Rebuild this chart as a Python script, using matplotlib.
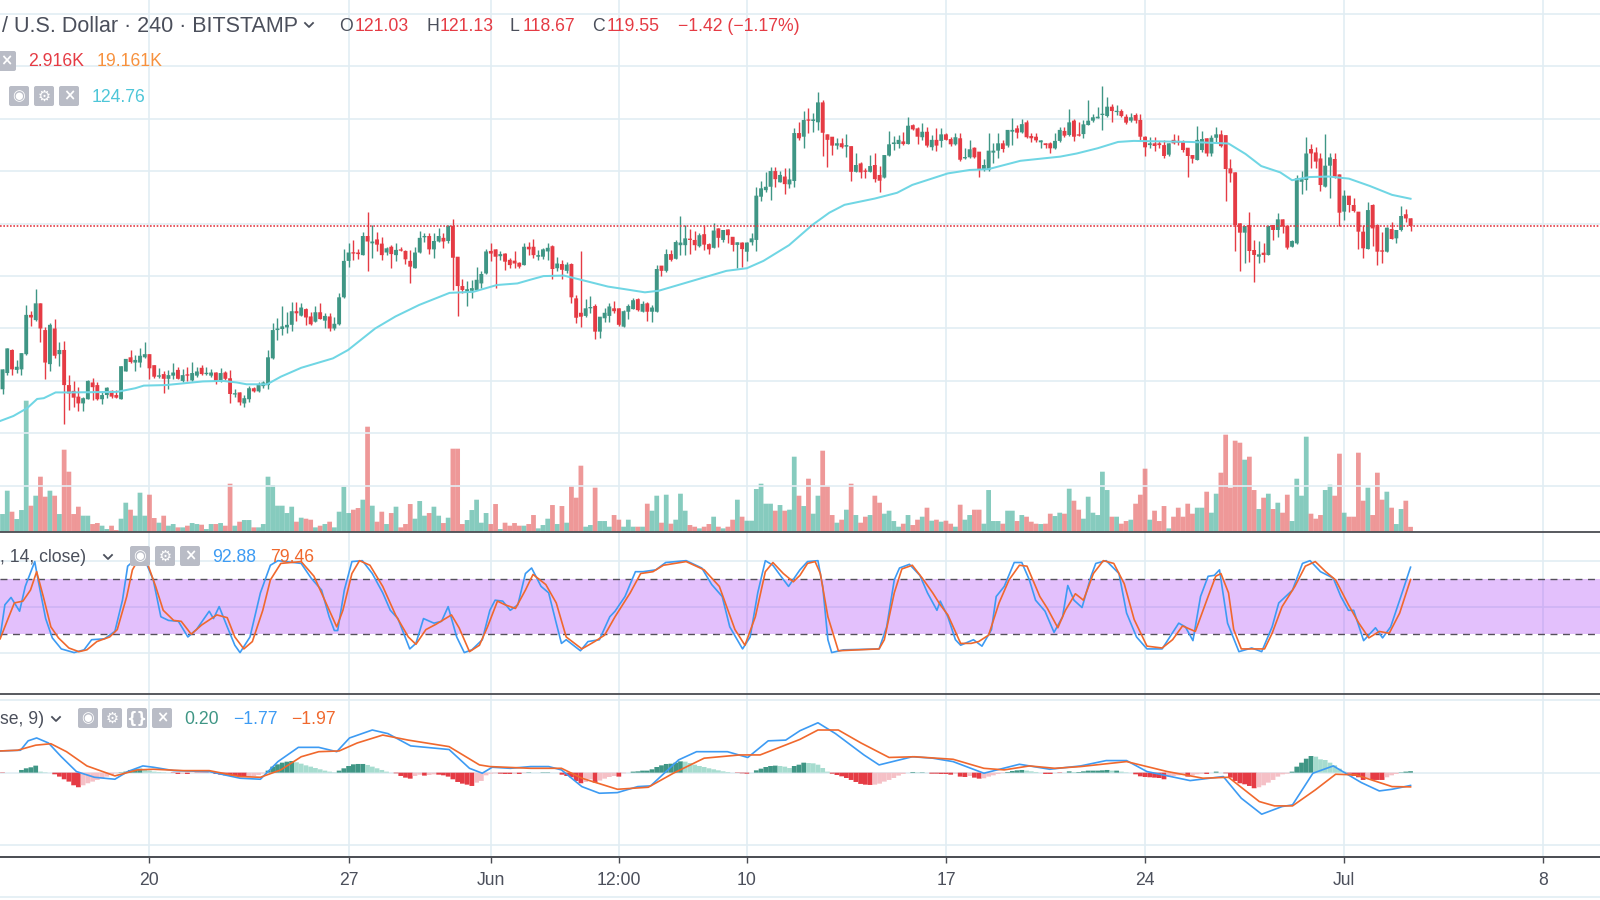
import numpy as np
import matplotlib
matplotlib.use("Agg")
import matplotlib.pyplot as plt
from matplotlib.lines import Line2D
from matplotlib.patches import FancyBboxPatch
from matplotlib.transforms import IdentityTransform

# candle offsets are counted in 4h bars from 20 May
first_bar = -31

opens = [
    88.4, 91.5, 95.9, 92.1, 92.2, 95.1, 102.6, 101.6, 104.8, 99.7,
    93.2, 100, 95.1, 95.9, 89.2, 88.1, 87, 85.7, 86.5, 89.7,
    89.2, 86.5, 87.3, 88.1, 87.3, 86.5, 91.8, 94.5, 93.5, 93.5, 94.5,
    95.1, 93, 90.8, 91.3, 90.4, 91, 92.1, 90, 91.1, 90.1,
    91, 92.5, 91.3, 91, 91.6, 89.9, 91.6, 90.5, 87.4, 87.8,
    85.7, 86.5, 88.6, 88, 89, 89.2, 94.3, 99.7, 99.9, 100.2,
    100.7, 103.3, 102.45, 103.7, 102.3, 101.3, 103.1, 101.5, 102.3, 100,
    100.8, 105.95, 112.9, 114.5, 114.5, 114, 117.65, 116.25, 117, 116.2,
    114.5, 115.6, 114, 115, 114.8, 112.9, 111.5, 114.5, 117.4, 117.65,
    115.1, 116.6, 117.3, 116.7, 119.6, 113.7, 108.1, 107, 107.2, 107.35,
    108.6, 110.5, 114.8, 115.1, 113.8, 114.3, 113.1, 112.95, 112.55, 112.1,
    115.6, 115.6, 113.7, 113.7, 114.7, 115.7, 111.5, 112.3, 111, 112.3,
    105.75, 103, 102.4, 103.85, 104.3, 99.4, 101.95, 102.4, 103.85, 103.85,
    100.35, 103.2, 103.7, 105.6, 103.2, 104.8, 103.2, 103.2, 112, 111,
    114.2, 113.3, 115.9, 115.9, 117.1, 116.9, 115.7, 118, 116.1, 115.4,
    119.1, 116.9, 118.9, 117.5, 115.95, 116.4, 114.65, 116.45, 116.9, 125.15,
    126.4, 127.05, 130.05, 127.9, 129, 127.5, 128.15, 137.3, 136.6, 139.9,
    139.6, 139.35, 143.15, 137.05, 136.6, 134.9, 135.35, 134.7, 134.8, 129.9,
    131.5, 130.05, 129.9, 131.2, 129.3, 128.8, 133, 135.2, 135.2, 135.7,
    135.2, 138.8, 138.2, 136.5, 137.55, 134.6, 136, 135.8, 137.05, 136.15,
    135.15, 136.3, 132.47, 132.67, 134.5, 133.75, 130.25, 130.25, 133.56, 133.94,
    135.34, 134.9, 137.56, 138.2, 137.43, 139.34, 136.74, 136.6, 135.53, 135.34,
    135.34, 134.38, 135.8, 137.7, 136.93, 139.66, 137.05, 137.1, 138.83, 139.66,
    140.1, 140.74, 140.55, 142.33, 141.3, 141.5, 140.42, 139.66, 140.74, 139.8,
    136.6, 135, 135.34, 135.34, 135, 133.17, 136, 135.8, 135.66, 134.5,
    133.1, 132.16, 134.06, 136.3, 133.4, 136.4, 137.05, 136.9, 130.56, 129.8,
    120.07, 118.29, 119.75, 114.98, 113.71, 114.47, 114.03, 119.75, 118.8, 120.83,
    119.62, 115.6, 116.25, 128, 128.34, 134.25, 133.6, 132.45, 127.07, 131.07,
    132.35, 129.4, 122.3, 125.35, 123.57, 122.3, 118.48, 115.17, 123.57, 119.75,
    114.79, 114.66, 118.99, 117.2, 118.8, 121.8, 121.03,
]
highs = [
    92.2, 96.2, 96.0, 94, 95.3, 104.5, 103.4, 107.5, 104.8, 100.3,
    101, 101.8, 97.4, 97.6, 91.1, 89.9, 88.9, 87, 90.2, 90.5,
    89.7, 88, 88.9, 88.3, 88.3, 92.9, 94.2, 95.9, 95, 96.2, 97.5,
    95.2, 93, 92.5, 91.8, 92.1, 93.4, 92.6, 92.2, 92.6, 93.7,
    92.6, 93, 92.6, 92.2, 91.7, 92.4, 91.8, 92.1, 88.4, 87.8,
    87.3, 89, 88.9, 89.8, 89.9, 95.9, 101, 102, 104.2, 103.2,
    105, 105, 104.8, 104, 103.2, 104.2, 104.8, 102.9, 102.9, 102.1,
    106.7, 115.1, 116.25, 116.8, 115.1, 118.4, 122.3, 119.75, 118.4, 117.4,
    115.6, 115.9, 116.4, 115.6, 115, 115, 115.6, 118.7, 118.3, 118.2,
    118.3, 119.2, 118.2, 119.75, 120.9, 113.7, 109.45, 109.05, 109.25, 111.7,
    111, 115.1, 116.4, 115.2, 114.7, 114.5, 113.4, 114.8, 112.75, 116.25,
    116.6, 117, 115, 115.3, 116.4, 115.9, 113.7, 113.1, 112.75, 112.55,
    106.4, 114.8, 105.6, 106.2, 104.7, 102.25, 103.85, 104.9, 105.3, 103.9,
    103.5, 104.6, 105.9, 105.75, 105.3, 105.1, 104.5, 112.2, 112, 115.1,
    115, 116.8, 121.5, 119.75, 118.9, 118.7, 118.2, 119.75, 116.25, 120.1,
    119.1, 118.8, 118.9, 117.5, 116.45, 116.5, 116.45, 118.15, 127.05, 128.15,
    129.8, 130.9, 130.9, 130.05, 130.55, 130.55, 138.2, 139.35, 141.5, 142,
    141.05, 145.06, 143.7, 137.05, 136.6, 136.3, 136.3, 137.05, 134.85, 133.4,
    131.7, 130.55, 133.1, 133.4, 131, 133.1, 137.7, 136.8, 136.9, 137.55,
    140.35, 139, 138.5, 139.3, 138.4, 136.9, 138.2, 138.2, 137.35, 136.5,
    137.35, 137.35, 134.38, 136, 134.6, 133.75, 132.35, 137.37, 135.34, 137.24,
    135.96, 137.9, 140.1, 138.83, 139.9, 139.8, 137.37, 137.24, 136, 135.46,
    135.66, 137.24, 138.5, 138.5, 141.8, 139.9, 139.34, 139.8, 143.7, 140.87,
    142.33, 146.3, 144.24, 142.84, 142.65, 141.8, 140.87, 141.06, 141.06, 140.87,
    136.74, 136.6, 136.5, 135.86, 136, 135.34, 137.05, 136.93, 136, 134.5,
    133.1, 138.7, 137.7, 136.3, 137, 138.5, 137.9, 136.9, 132.35, 129.8,
    120.2, 119.56, 122.3, 116.89, 116.7, 116.38, 119.75, 119.75, 121.98, 120.83,
    119.62, 116.9, 129.3, 130.05, 136.5, 135.15, 134.7, 133.4, 137.05, 133.4,
    133.4, 129.4, 126.43, 125.35, 124.84, 122.3, 119.75, 124.08, 123.7, 119.9,
    118.48, 119.43, 120.26, 118.8, 123.38, 122.8, 121.13,
]
lows = [
    87.5, 91.1, 91.1, 91.5, 91.1, 95, 100.4, 101.5, 97.4, 90.4,
    91.8, 94.3, 92.9, 81.8, 84.5, 85.1, 84.3, 84.3, 86.5, 86.4,
    86.4, 85.6, 86.7, 86.7, 86.7, 86.5, 91.8, 93.4, 91.8, 92.6, 94.3,
    90.4, 90.6, 90.6, 87.6, 88.5, 90.4, 90.4, 89.7, 89.9, 90,
    90.8, 91.1, 91.1, 90.7, 89.5, 89.7, 90.2, 85.7, 86.9, 85.4,
    85, 86, 87.8, 87.9, 88.6, 88.4, 94.2, 97.8, 98.8, 99.1,
    99.5, 101.4, 102.3, 100.7, 100.7, 101.2, 101.8, 100, 99.6, 99.7,
    100.7, 105.9, 111.8, 113, 113.2, 114, 111, 113.4, 114.7, 113,
    114, 111.5, 112.9, 114.7, 112.4, 108.7, 111.5, 114.5, 116.6, 114.3,
    113.5, 116.6, 115.3, 116.25, 107.35, 102.4, 106.85, 104.3, 105.9, 107.35,
    107.7, 110.4, 112.9, 107.7, 113.1, 111.2, 111.5, 111.5, 111.5, 112.1,
    114, 113.5, 113.1, 113.2, 113.1, 109.4, 111, 109.4, 110.65, 104.8,
    101.1, 100.35, 102.25, 102.9, 97.9, 98.1, 101.3, 101.3, 102.9, 100.5,
    100.35, 101.8, 103.65, 103.4, 103.2, 101.5, 101.2, 103.2, 110.1, 110.85,
    112.95, 113.2, 114, 114, 114.3, 115, 115.6, 115, 114.3, 115.3,
    115.6, 116.6, 116.25, 114.85, 111.5, 111.8, 112.9, 115.95, 114.85, 124.3,
    126.1, 124.5, 127.05, 127.9, 125.65, 126.75, 127.05, 136, 134.4, 137.4,
    137.55, 137.9, 132.9, 130.75, 133.1, 134.25, 134.4, 132.65, 128.2, 129.8,
    128.65, 128.8, 129.8, 128, 126, 128.65, 133, 134.05, 134.4, 135,
    135.15, 137.9, 135.15, 136, 134.7, 134.05, 133.9, 134.7, 136, 134.9,
    135, 132, 132.35, 132.47, 132.5, 128.98, 130.12, 130.12, 131.52, 132.47,
    133.75, 134.57, 135, 136.3, 137.37, 136.3, 135.66, 135.53, 134.38, 134.38,
    133.56, 134.25, 135.66, 136.6, 136.8, 135.8, 136.74, 136.3, 138.83, 139.47,
    140.1, 137.9, 140.42, 139.34, 140.74, 140.42, 139.02, 139.47, 139.28, 135.8,
    132.92, 134.38, 133.87, 134.38, 132.47, 132.92, 135.2, 135, 133.75, 128.98,
    131.52, 132.16, 133.6, 132.9, 132.9, 135.65, 134.7, 124.33, 127.9, 114.79,
    110.97, 112.44, 112.63, 108.81, 112.44, 112.63, 114.03, 116.89, 117.4, 118.16,
    115.17, 115.5, 116.06, 125.67, 126.43, 130.56, 130.56, 126.24, 127.07, 124.84,
    128.78, 119.62, 120.7, 122.17, 122.17, 115.1, 113.52, 115.1, 115.8, 112.12,
    112.44, 114.53, 117.08, 116.25, 118.67, 120.4, 118.67,
]
closes = [
    92.2, 96.2, 92.2, 92.7, 95.3, 102.6, 102.1, 104.8, 100, 93.5,
    100.7, 94.8, 95.9, 89.2, 87.6, 86.8, 85.7, 86.7, 90, 88.8,
    86.5, 87.3, 88.7, 87, 86.8, 92.8, 94.2, 93.6, 94, 94.8, 95.1,
    92.4, 90.8, 91, 90.4, 91.1, 91.6, 90.4, 91.1, 91, 91.5,
    91.8, 91.3, 91.5, 91.6, 89.9, 91.5, 90.4, 87.5, 87.5, 85.9,
    86.7, 88.6, 88, 89.3, 89.7, 94.5, 99.7, 100, 100.4, 100.7,
    103.3, 102.9, 104, 102.1, 100.8, 103.1, 101.8, 102.4, 100, 100.9,
    105.95, 112.9, 114.5, 114.3, 114.2, 117.65, 116.6, 116.6, 116, 114,
    115.3, 114.2, 115, 114.85, 113.2, 111.8, 114.5, 117.3, 117.65, 115.1,
    116.7, 117.65, 116.6, 119.6, 113.5, 108.1, 107.35, 107.5, 107.7, 109.3,
    110.4, 114.7, 114.3, 113.7, 114.2, 112.75, 112.1, 112.4, 111.8, 115.6,
    115.1, 114, 114, 115.1, 115.4, 111.35, 112.4, 111.2, 112.2, 105.95,
    102.05, 102.25, 103.85, 104, 99.4, 102.25, 103, 104.2, 103.3, 100.7,
    103.3, 104.3, 105.4, 103.5, 104.7, 103.2, 104, 111.35, 111, 114.2,
    113.1, 116.5, 116.4, 117.2, 116.9, 115.9, 117.8, 116, 115.1, 118.7,
    117.3, 118.8, 117.8, 115.95, 116.45, 115.15, 116.4, 117.2, 125.35, 126.75,
    127.05, 130.05, 128.5, 129.3, 127.55, 128.45, 137.3, 136.3, 139.8, 139.65,
    139.9, 143.15, 137.35, 136, 134.9, 135.35, 134.6, 135, 129.9, 131.2,
    129.8, 129.9, 131, 128.5, 128.2, 133.1, 135.15, 135.5, 136, 135.2,
    138.7, 138, 136.6, 137.55, 134.9, 136, 134.9, 137.05, 136, 135.15,
    136.5, 132.2, 132.6, 134.2, 132.67, 130.25, 131.2, 133.94, 133.94, 135.34,
    134.25, 137.9, 137.9, 137.37, 139, 136.5, 136.3, 135.9, 135.9, 135,
    134.38, 135.8, 137.9, 136.8, 139.34, 136.6, 136.8, 138.96, 139.66, 140.3,
    140.42, 140.9, 142.33, 141.5, 141.5, 140.55, 139.28, 140.3, 139.66, 136.6,
    134.57, 135.34, 134.83, 135, 132.92, 135.34, 135.34, 135.46, 134.06, 132.92,
    132.4, 136, 136.16, 133.4, 136.4, 137.05, 134.8, 130.43, 129.6, 119.75,
    118.29, 119.56, 114.79, 114.03, 114.15, 114.03, 119.56, 118.8, 120.83, 119.43,
    115.43, 116.7, 128.65, 128.65, 133.4, 133.4, 131.85, 127.38, 131.07, 132.65,
    128.97, 122.1, 125.35, 123.57, 122.42, 118.48, 115.3, 122.6, 119.1, 114.66,
    114.66, 119.24, 117.08, 118.8, 121.47, 121, 119.55,
]
volumes = [
    10.6, 24.6, 12, 7.6, 13, 78.6, 15.6, 21.6, 33, 21,
    24.6, 21.6, 10.6, 49.2, 36, 10.6, 15, 9.6, 9.6, 4.6,
    5.2, 3.6, 1.6, 3.6, 1, 7.8, 17.4, 13.2, 9.6, 23.4, 9.6,
    22.2, 8.2, 5.4, 9.6, 3.6, 4.6, 2.6, 2.6, 3.6, 5.2,
    4.6, 4.2, 1.6, 4.6, 4.6, 5.2, 3.6, 28.8, 3.6, 6,
    7, 7, 2.6, 2.6, 4.6, 33, 28, 15.6, 15.6, 11.2,
    15, 6, 8.4, 7.8, 7.2, 2.6, 3.6, 4.6, 6, 2.6,
    12, 27, 11.2, 13.2, 14.2, 19.2, 63, 15.6, 6, 12,
    4.6, 11.2, 15, 2.6, 4.6, 16.6, 7.8, 18.4, 9.6, 11.2,
    15, 9.6, 5.2, 8.4, 49.8, 49.8, 4.6, 7, 13, 19.2,
    5.4, 11.2, 4.6, 16.6, 1.6, 5.4, 3.6, 5.2, 3.6, 3.6,
    4.6, 10, 2, 4, 7.8, 16, 4.6, 15.4, 5.4, 27.4,
    20.4, 39.6, 3, 4, 26.4, 6.4, 6.4, 3, 10, 7.2,
    3, 7.2, 3, 3, 3, 16.8, 12.6, 21.6, 5.4, 22.2,
    4.8, 7.2, 22.8, 12.6, 4, 3, 2, 3, 4.6, 9,
    3, 2, 3, 7.2, 19.2, 9, 6.6, 6.6, 25.6, 28.8,
    16.8, 16.8, 12.6, 16, 12.6, 13.2, 45, 21.6, 15.4, 31.8,
    10.8, 21.6, 48.6, 27.4, 10, 5.4, 7.2, 13.2, 28.8, 10,
    5.4, 9, 10, 21.6, 17.4, 10.8, 12.6, 6.4, 3, 4.8,
    10, 4, 7.2, 9, 14.4, 6.6, 7.2, 6, 6.6, 4.8,
    3, 16.2, 7.2, 10, 13.2, 13.2, 4.8, 25, 6.4, 6.4,
    4.8, 12.6, 12.6, 6.4, 10, 9, 6, 4.8, 4.6, 4.8,
    10.8, 9.4, 11.4, 10.8, 25.8, 18.6, 13.2, 7.8, 21, 11.4,
    10, 36, 25, 9, 9, 4.8, 6.4, 7.2, 16.8, 22.2,
    37.8, 7.2, 12.6, 6.4, 15.4, 2, 9, 14.4, 9, 16.8,
    10.8, 14.4, 14.4, 24, 11.4, 22.8, 35.4, 58.2, 26.4, 54.6,
    53.4, 43.2, 45, 25, 13.6, 20.4, 22.8, 13.6, 17.4, 11.4,
    22.2, 6.4, 31.8, 21.6, 57, 10.8, 7.8, 10, 25, 28.2,
    21.6, 46.8, 11.4, 9, 9, 47.4, 18.6, 26.4, 10, 35.4,
    19.2, 24, 14.4, 4.6, 13.6, 18.6, 2.916,
]
macd_hist = [
    -.05, 0, 0, 0, .37, .6, .74, .97, .14, .05,
    0, -.23, -.55, -.92, -1.24, -1.75, -2.02, -1.75, -1.47, -1.24,
    -1.01, -.78, -.55, -.32, -.09, .05, .14, .37, .46, .55, .41,
    .28, .14, .09, .05, 0, -.05, -.18, -.14, -.18, -.05,
    -.05, -.05, -.05, 0, -.18, -.28, -.37, -.46, -.51, -.55,
    -.6, -.55, -.46, -.32, -.09, .28, .83, 1.15, 1.38, 1.52,
    1.61, 1.43, 1.24, 1.01, .83, .64, .46, .28, .14, .05,
    .28, .6, .92, 1.15, 1.2, 1.2, 1.06, .83, .6, .37,
    .14, 0, -.09, -.46, -.69, -.83, -.46, -.28, -.41, -.32,
    -.23, -.28, -.37, -.55, -.92, -1.29, -1.52, -1.66, -1.84, -1.38,
    -1.15, -.37, -.14, -.09, -.14, -.18, -.18, -.14, -.18, -.05,
    .05, 0, 0, .05, .05, 0, 0, -.28, -.46, -.64,
    -1.15, -1.47, -1.29, -.92, -1.38, -1.1, -.83, -.6, -.46, -.55,
    -.09, 0, .14, .18, .28, .28, .46, .78, 1.01, 1.2,
    1.24, 1.38, 1.56, 1.52, 1.33, 1.1, .92, .78, .6, .46,
    .32, .18, .09, 0, -.05, -.09, -.14, 0, .32, .55,
    .78, .92, .97, .92, .83, .64, .92, 1.1, 1.38, 1.33,
    1.29, 1.1, .64, .14, -.14, -.32, -.51, -.74, -1.01, -1.29,
    -1.56, -1.66, -1.7, -1.66, -1.52, -1.24, -1.01, -.74, -.41, -.18,
    0, .09, .05, .05, 0, -.14, -.14, -.18, -.18, -.28,
    -.14, -.55, -.6, -.46, -.69, -.83, -.78, -.55, -.37, -.18,
    -.05, .09, .23, .32, .37, .28, .18, .09, 0, -.18,
    -.18, 0, -.05, 0, .18, .09, .09, .18, .28, .28,
    .28, .32, .37, .28, .28, .14, .05, 0, -.23, -.51,
    -.6, -.64, -.69, -.74, -.92, -.55, -.46, -.37, -.18, -.55,
    -.37, -.23, -.14, -.18, 0, .14, 0, -.09, -.69, -1.15,
    -1.47, -1.61, -1.84, -2.16, -2.02, -1.75, -1.38, -1.01, -.55, -.23,
    -.14, .14, .83, 1.38, 1.93, 2.3, 2.21, 1.84, 1.75, 1.38,
    1.01, .55, .14, -.14, -.46, -.64, -1.01, -.78, -1.01, -1.01,
    -1.01, -.64, -.37, -.18, .05, .14, .2,
]

# moving average, read at its bends
ma_bars = [-31.5, -28.7, -25.8, -23.7, -22.3, -19.8, -16.5, -6.9, -3, -1.2, 3.4, 11.3, 15.5, 18.4, 20.5, 24.8, 27.7, 32, 38.7, 41.9,
           47.6, 51.9, 56.9, 63.3, 68.3, 73.3, 77.6, 80.3, 83.1, 87.4, 91, 96.7, 100.3, 104.5, 107.4, 113.8, 121.7, 126, 129.5, 134.9,
           139.8, 143.4, 146.6, 153, 157.7, 160.9, 168.4, 173, 176.9, 183.7, 192.1, 195.6, 200, 204.3, 207.6, 219.6, 227.6, 231.2, 234.5, 238.5,
           241, 244.7, 248.7, 253, 257.4, 262.1, 266]
ma_values = [82.35, 83.3, 84.8, 86.55, 86.7, 87.8, 87.8, 87.9, 88.6, 89.1, 89.2, 89.9, 90, 89.7, 89.35, 89.35, 90.8, 92.5, 94.3, 95.9,
             100, 102.3, 104.5, 106.8, 107, 108.3, 108.6, 109.3, 110, 110.1, 109.3, 108, 107.5, 106.9, 107.2, 108.9, 111, 111.5, 112.9, 115.9,
             119.75, 122.1, 123.6, 124.8, 125.9, 127.4, 129.6, 130.25, 130.4, 132, 132.8, 133.4, 134.4, 135.6, 135.8, 135.6, 135.3, 133.3, 131, 129.8,
             128.3, 128.9, 129, 128.6, 127.2, 125.5, 124.76]

stoch_k_bars = [-31.5, -30.5, -29.2, -27.4, -26.2, -24.2, -23.5, -21.9, -20.5, -18.6, -15.9, -13.8, -12.2, -9.5, -7.3, -5.7, -4.6, -3.3, -0.9, 0.8,
                2.4, 4, 6.1, 8.1, 9.9, 12.6, 13.5, 14.7, 16.4, 18, 19.1, 21.2, 23.4, 25.5, 27.1, 32, 34.1, 36.3, 37.9, 39,
                39.7, 41.1, 42.7, 44.9, 47, 49.2, 50.8, 52.4, 54.9, 56.2, 57.8, 60, 61.6, 63, 64.8, 66.4, 68, 70.2, 71.8, 72.9,
                74.5, 76.1, 77.7, 79.3, 80.6, 82.6, 84.2, 85.8, 86.9, 87.9, 90.9, 92.5, 94.9, 97.1, 98.2, 100.3, 102.5, 104.1, 106.8, 108.9,
                113.2, 116.5, 118.6, 120.8, 122.4, 125.1, 126.7, 128.3, 129.9, 131.5, 133.2, 134.8, 137.2, 138.8, 141, 142, 143.1, 143.9, 146.4, 153.9,
                155.5, 157.1, 158.2, 160.3, 162.5, 164.1, 166.1, 166.8, 168.4, 170, 171.1, 173.8, 175.6, 177.6, 178.6, 180.3, 182.4, 184, 185.6, 186.9,
                188.9, 190.8, 192.6, 193.7, 195, 196.7, 198.6, 199.6, 201.8, 204.5, 206.1, 208.2, 210.4, 213.6, 217.1, 218.5, 220.1, 221.7, 223.3, 224.6,
                225.7, 227.4, 229.8, 232.5, 234.6, 236.8, 238.2, 241.1, 243.2, 244.8, 247, 249.7, 251.3, 252.9, 254, 256.1, 258.6, 260.1, 261.8, 263.7, 266]
stoch_k_values = [17, 52, 60, 45, 72, 99, 79, 37, 16, 4, 0, 3, 14, 15, 23, 57, 94, 100, 100, 79,
                  39, 35, 34, 17, 25, 45, 37, 50, 28, 8, 0, 17, 65, 95, 100, 97, 81, 68, 39, 24,
                  24, 68, 99, 100, 86, 65, 46, 37, 4, 10, 37, 32, 34, 50, 17, 0, 3, 14, 46, 57,
                  56, 46, 52, 86, 92, 72, 65, 32, 10, 14, 2, 12, 14, 39, 45, 61, 88, 88, 90, 98,
                  100, 92, 74, 61, 28, 4, 17, 65, 100, 95, 83, 72, 90, 99, 100, 72, 14, 0, 3, 4,
                  28, 79, 92, 96, 84, 65, 46, 56, 39, 14, 8, 14, 7, 25, 61, 72, 98, 98, 79, 57,
                  45, 22, 39, 73, 57, 49, 83, 97, 100, 86, 43, 17, 4, 4, 32, 28, 13, 61, 83, 84,
                  90, 32, 1, 5, 1, 28, 54, 68, 97, 100, 88, 81, 61, 46, 46, 13, 27, 16, 28, 57, 92.88]
stoch_d_bars = [-31.5, -29.9, -28.5, -26.7, -25.1, -23.8, -22.4, -20.8, -19.2, -17, -14.9, -13.2, -11.1, -8.4, -6.8, -4.8, -3.6, -2.5, -0.3, 1.3,
                2.9, 5.1, 6.7, 8.8, 11, 14.2, 16.4, 18, 19.9, 21.7, 23.9, 25.5, 27.7, 32, 34.7, 37.4, 39.5, 40.8, 42.7, 44.3,
                46.5, 49.2, 51.9, 54.6, 56.2, 58.3, 60.5, 62.1, 63.7, 65.3, 67.5, 69.6, 71.3, 73.4, 75, 77.2, 79.3, 80.9, 83.6, 85.8,
                87.9, 91.2, 93.9, 96, 98.2, 101.4, 103.6, 106.2, 108.4, 113.2, 117, 120.2, 123.5, 125.6, 127.8, 129.9, 131.5, 133.7, 135.8, 137.2,
                138.8, 140.4, 141.5, 143.1, 145.3, 153.9, 155, 157.1, 158.7, 160.9, 163, 165.2, 166.8, 168.4, 171.1, 173.3, 174.9, 177, 179.2, 181.3,
                183.5, 185.1, 187.8, 189.4, 191.6, 193.2, 195.3, 197, 199.1, 201.2, 203.4, 205.6, 207.7, 210.4, 213.6, 215.8, 217.9, 220.6, 223.3, 224.9,
                226, 227.6, 228.7, 230.3, 235.2, 236.8, 238.9, 241.6, 243.8, 245.9, 248.1, 250.2, 252.9, 255.1, 257.2, 259.4, 261.5, 263.7, 266]
stoch_d_values = [15, 36, 54, 56, 68, 88, 61, 28, 16, 5, 1, 3, 12, 17, 25, 61, 90, 100, 95, 72,
                  46, 35, 34, 20, 30, 41, 38, 17, 4, 12, 46, 79, 97, 99, 83, 52, 28, 46, 86, 100,
                  95, 72, 41, 17, 9, 25, 31, 36, 41, 27, 1, 8, 28, 56, 52, 48, 68, 85, 74, 54,
                  17, 4, 12, 19, 39, 65, 86, 88, 95, 99, 90, 72, 25, 8, 39, 88, 98, 86, 77, 84,
                  97, 99, 86, 39, 2, 4, 14, 65, 91, 95, 81, 65, 52, 41, 10, 10, 12, 19, 54, 79,
                  95, 94, 61, 48, 27, 46, 64, 57, 86, 100, 97, 75, 36, 7, 5, 14, 29, 23, 61, 83,
                  86, 65, 25, 4, 4, 21, 50, 72, 94, 99, 88, 79, 52, 32, 16, 23, 21, 43, 79.46]

macd_bars = [-31.5, -27.2, -25.6, -23.8, -21.3, -18.6, -15.4, -11.6, -7.3, -4.6, -1.4, 0.8, 5.1, 12.6, 19.1, 23.4, 27.1, 31.4, 35.7, 39.5,
             42.2, 47, 50.3, 55.1, 63.2, 67.5, 70.2, 72.3, 76.1, 80.4, 84.2, 86.9, 91.2, 94.9, 98.7, 103, 105.7, 111.6, 115.4, 121.9,
             126.2, 130.5, 134.2, 137.2, 141, 144.7, 150.7, 153.9, 160.9, 165.2, 169.5, 176, 183.5, 189.9, 196.4, 201.8, 206.1, 210.4, 219.5, 226.5,
             230.3, 234.6, 238.9, 241.1, 245.4, 249.7, 255.6, 259.4, 262.1, 266]
macd_values = [3, 3.1, 4.4, 4.8, 4.1, 2.2, .15, -.64, -.91, .15, .93, .75, .28, .15, -.77, -.91, 1.53, 3.5, 3.5, 2.9,
               4.8, 5.9, 5.4, 3.7, 3.2, .6, -.08, .75, .6, .84, .84, .38, -1.93, -2.85, -2.76, -1.93, -1.83, 1.76, 2.9, 2.9,
               2.1, 4.4, 4.5, 5.8, 6.9, 5.4, 2.45, 1.07, 2.2, 2, 1.53, -.08, 1.16, .47, .93, 1.67, 1.67, .15, -1.1, -.54,
               -3.54, -5.75, -4.69, -4.46, -.08, .93, -1.37, -2.53, -2.3, -1.77]
signal_bars = [-31.5, -27.8, -24, -20.8, -17.5, -13.2, -7.3, -2.5, 0.8, 7.2, 12.6, 19.1, 23.4, 27.7, 32, 35.7, 40, 43.8, 49.2, 54.6,
               63.2, 69.6, 71.8, 80.4, 86.9, 91.2, 98.7, 105.2, 110.5, 117, 124.5, 128.8, 137.2, 141, 145.3, 150.1, 156, 161.4, 169.5, 176,
               180.3, 185.6, 191, 196.4, 206.1, 214.7, 222.2, 227.6, 234.1, 237.3, 241.1, 245.9, 250.2, 254.5, 262.1, 266]
signal_values = [3, 3.1, 3.8, 4, 2.9, .93, -.45, .38, .47, .28, .28, -.54, -.64, .38, 2.2, 2.9, 3, 4.1, 5.2, 4.5,
                 3.6, 1.07, .84, .6, .6, -.77, -2.3, -2.02, -.08, 2, 2.45, 2.45, 4.6, 5.9, 5.9, 4.1, 2.1, 2.2, 1.85, .6,
                 .38, .93, .6, .84, 1.53, .15, -.77, -.64, -4, -4.6, -4.6, -2.39, -.22, -.31, -1.93, -1.97]

price_ticks = [70, 80, 90, 100, 110, 120, 130, 140, 150, 160]
stoch_grid = [0, 50, 100]
macd_grid = [-10, 0, 10]
time_ticks = [0, 42, 72, 99, 126, 168, 210, 252, 294]
time_labels = ["20", "27", "Jun", "12:00", "10", "17", "24", "Jul", "8"]
last_close = 119.55

GREEN = "#3f9685"
RED = "#e53b44"
VOL_GREEN = "#45af9b"
VOL_RED = "#e56161"
BLUE = "#3d9bf3"
ORANGE = "#f0682d"
CYAN = "#70d6e4"
GRID = "#e2edf3"
TEXT = "#4b4f5b"
ICON = "#b9bcc6"
DIVIDER = "#4a4c52"

W, H = 1600, 900
FONT = ["Liberation Sans", "DejaVu Sans"]


def pane(y_top, y_bottom):
    ax = fig.add_axes([0, 1 - y_bottom / H, 1, (y_bottom - y_top) / H])
    ax.set_xlim(-31.53, 305.96)
    ax.set_yticks([])
    ax.set_xticks([])
    for s in ("top", "left", "right", "bottom"):
        ax.spines[s].set_visible(False)
    ax.set_facecolor("none")
    return ax


def label(x, y, text, color=TEXT, size=12.7, ha="left"):
    fig.text(x / W, 1 - (y + 1.5) / H, text, color=color, fontsize=size, ha=ha, va="center", family=FONT)


def chevron(x, y):
    fig.add_artist(Line2D([(x - 4) / W, x / W, (x + 4) / W], [1 - (y - 2) / H, 1 - (y + 2) / H, 1 - (y - 2) / H],
                          color=TEXT, lw=1.3))


def icon(x0, x1, y0, y1, glyph):
    box = FancyBboxPatch((x0 + 1, H - y1 + 1), x1 - x0 - 2, y1 - y0 - 2, boxstyle="round,pad=1,rounding_size=2",
                         fc=ICON, ec="none", transform=IdentityTransform())
    fig.add_artist(box)
    fig.text((x0 + x1) / 2 / W, 1 - ((y0 + y1) / 2) / H, glyph, color="white", fontsize=10.5, ha="center",
             va="center", family="DejaVu Sans", fontweight="bold")


def unsnap(container):
    for b in container:
        b.set_snap(False)


fig = plt.figure(figsize=(W / 100, H / 100), dpi=100, facecolor="white")

bars = np.arange(first_bar, first_bar + len(closes))
opens, highs, lows, closes = map(np.array, (opens, highs, lows, closes))
up = closes >= opens

# price pane, volume sits on its own scale behind the candles
vol_ax = pane(0, 531.7)
vol_ax.set_ylim(0, 319)
for t in time_ticks:
    vol_ax.axvline(t, color=GRID, lw=1.2, zorder=0)
unsnap(vol_ax.bar(bars, volumes, width=1.0, color=[VOL_GREEN if u else VOL_RED for u in up], alpha=0.65, lw=0, zorder=2))

ax1 = pane(0, 531.7)
ax1.set_ylim(61.22, 162.69)
for p in price_ticks:
    ax1.axhline(p, color=GRID, lw=1.2, zorder=0)
ax1.vlines(bars, lows, highs, colors=[GREEN if u else RED for u in up], lw=1.0, zorder=3)
body_low = np.minimum(opens, closes)
body_h = np.maximum(np.abs(closes - opens), 0.25)
unsnap(ax1.bar(bars, body_h, bottom=body_low, width=0.82, color=[GREEN if u else RED for u in up], lw=0, zorder=4))
ax1.plot(ma_bars, ma_values, color=CYAN, lw=1.45, zorder=5)
ax1.axhline(last_close, color=RED, lw=1.2, ls=(0, (1, 1)), zorder=6)

# stochastic pane
ax2 = pane(531.7, 693.5)
ax2.set_ylim(-44.5, 131.5)
for t in time_ticks:
    ax2.axvline(t, color=GRID, lw=1.2, zorder=0)
for g in stoch_grid:
    ax2.axhline(g, color=GRID, lw=1.2, zorder=0)
ax2.axhspan(20, 80, color=(147 / 255, 7 / 255, 247 / 255), alpha=0.25, lw=0, zorder=1)
for g in (20, 80):
    ax2.axhline(g, color="#55505c", lw=1.0, ls=(0, (5, 4)), zorder=2)
ax2.plot(stoch_k_bars, stoch_k_values, color=BLUE, lw=1.2, zorder=3)
ax2.plot(stoch_d_bars, stoch_d_values, color=ORANGE, lw=1.2, zorder=4)

# macd pane
ax3 = pane(693.5, 857)
ax3.set_ylim(-11.67, 10.95)
for t in time_ticks:
    ax3.axvline(t, color=GRID, lw=1.2, zorder=0)
for g in macd_grid:
    ax3.axhline(g, color=GRID, lw=1.2, zorder=0)
hist_colors = []
prev = 0
for h in macd_hist:
    if h >= 0:
        hist_colors.append(GREEN if h >= prev else "#a6dccf")
    else:
        hist_colors.append(RED if h <= prev else "#f5c0c6")
    prev = h
unsnap(ax3.bar(bars, macd_hist, width=1.0, color=hist_colors, lw=0, zorder=2))
ax3.plot(macd_bars, macd_values, color=BLUE, lw=1.2, zorder=3)
ax3.plot(signal_bars, signal_values, color=ORANGE, lw=1.2, zorder=4)
ax3.set_xticks(time_ticks)
ax3.set_xticklabels(time_labels, color=TEXT, fontsize=12.7, family=FONT)
ax3.tick_params(axis="x", length=4, width=1.0, color=DIVIDER, pad=6.5)

# pane dividers and the bottom edge
for y, c, lw in ((531.7, DIVIDER, 1.3), (693.5, DIVIDER, 1.3), (857, DIVIDER, 1.4), (896.5, GRID, 1.2)):
    fig.add_artist(Line2D([0, 1], [1 - y / H, 1 - y / H], color=c, lw=lw))

# legend rows
label(2, 25, "/ U.S. Dollar · 240 · BITSTAMP", size=15.5)
chevron(309, 25)
for x, text, color in ((339, "O", TEXT), (355, "121.03", RED), (426, "H", TEXT), (440, "121.13", RED), (510, "L", TEXT),
                       (523, "118.67", RED), (592, "C", TEXT), (607, "119.55", RED), (678, "−1.42 (−1.17%)", RED)):
    label(x, 25, text, color)

icon(-4, 16, 51, 71, "×")
label(28, 60, "2.916K", RED)
label(97, 60, "19.161K", "#f7913d")

icon(9, 29, 86, 106, "◉")
icon(34, 54, 86, 106, "⚙")
icon(59, 79, 86, 106, "×")
label(92, 96, "124.76", "#4ec6d8")

label(0, 556.5, ", 14, close)")
chevron(108, 557)
icon(130, 150, 546, 566, "◉")
icon(155, 175, 546, 566, "⚙")
icon(180, 200, 546, 566, "×")
label(212, 556.5, "92.88", BLUE)
label(270, 556.5, "79.46", ORANGE)

label(0, 718, "se, 9)")
chevron(56, 719)
icon(78, 98, 708, 728, "◉")
icon(102, 122, 708, 728, "⚙")
icon(127, 147, 708, 728, "{}")
icon(152, 172, 708, 728, "×")
label(184, 718, "0.20", GREEN)
label(233, 718, "−1.77", BLUE)
label(291, 718, "−1.97", ORANGE)

fig.savefig("out.png", dpi=100)
